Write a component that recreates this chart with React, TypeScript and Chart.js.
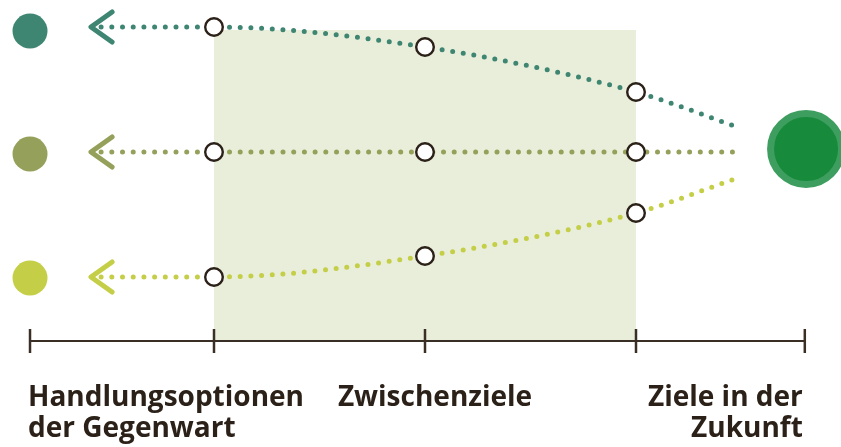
import React, { useEffect, useRef } from "react";
import { Chart, registerables } from "chart.js";

Chart.register(...registerables);

// Stages on the time axis (0 = present, 1 = intermediate goals, 2 = future goals)
const stageLabels: string[][] = [
  ["Handlungsoptionen", "der Gegenwart"],
  ["Zwischenziele"],
  ["Ziele in der", "Zukunft"],
];
const stageX = [0, 1, 2];
const axisStart = -0.872;
const axisEnd = 2.8;
const axisTicks = [axisStart, 0, 1, 2, axisEnd];
const axisLevel = -189;
const shadeTop = 122;

// Path values (deviation from the central path)
const tealValues = [125, 105, 60];
const oliveValues = [0, 0, 0];
const limeValues = [-125, -104, -61];
const endX = 2.48;
const tealEnd = 25;
const oliveEnd = 0;
const limeEnd = -26;
const arrowStartX = -0.535;
const arrowTipX = -0.583;
const arrowArmX = -0.483;
const arrowArm = 15;

// Option markers on the left and the goal on the right
const optionValues = [121, -2, -126];
const goalX = 2.806;
const goalValue = 3;

const XMIN = -214 / 211;
const XMAX = 627 / 211;
const YMIN = -295;
const YMAX = 152;

const TEAL = "#3f8672";
const OLIVE = "#95a15a";
const LIME = "#c4cf47";
const DARK = "#2b2118";
const SHADE = "#e8eed9";

function pathData(values: number[], end: number) {
  return [
    { x: arrowStartX, y: values[0] },
    ...stageX.map((x, i) => ({ x, y: values[i] })),
    { x: endX, y: end },
  ];
}

function arrowData(v: number) {
  return [
    { x: arrowArmX, y: v + arrowArm },
    { x: arrowTipX, y: v },
    { x: arrowArmX, y: v - arrowArm },
  ];
}

function pathDataset(values: number[], end: number, color: string) {
  return {
    data: pathData(values, end),
    showLine: true,
    borderColor: color,
    borderWidth: 5,
    borderDash: [0, 10.7],
    borderCapStyle: "round" as const,
    cubicInterpolationMode: "monotone" as const,
    pointRadius: [0, 8.8, 8.8, 8.8, 0],
    pointBackgroundColor: "#ffffff",
    pointBorderColor: DARK,
    pointBorderWidth: 2.4,
    order: 1,
  };
}

function arrowDataset(v: number, color: string) {
  return {
    data: arrowData(v),
    showLine: true,
    borderColor: color,
    borderWidth: 5,
    borderCapStyle: "round" as const,
    borderJoinStyle: "round" as const,
    pointRadius: 0,
    tension: 0,
    order: 2,
  };
}

const labelPlugin = {
  id: "stageLabels",
  afterDraw(chart: any) {
    const ctx = chart.ctx;
    const xs = chart.scales.x;
    const ys = chart.scales.y;
    const base = ys.getPixelForValue(axisLevel);
    ctx.save();
    ctx.fillStyle = DARK;
    ctx.font = '700 28px "Open Sans"';
    ctx.textBaseline = "alphabetic";
    const positions = [
      { x: xs.getPixelForValue(axisStart) - 2, align: "left" },
      { x: xs.getPixelForValue(1) + 10, align: "center" },
      { x: xs.getPixelForValue(axisEnd) - 2, align: "right" },
    ];
    stageLabels.forEach((lines, i) => {
      ctx.textAlign = positions[i].align;
      lines.forEach((line, j) => {
        ctx.fillText(line, positions[i].x, base + 65 + j * 31);
      });
    });
    ctx.restore();
  },
};

export default function App() {
  const ref = useRef<HTMLCanvasElement | null>(null);
  useEffect(() => {
    if (!ref.current) return;
    const chart = new Chart(ref.current, {
      type: "scatter",
      data: {
        datasets: [
          pathDataset(tealValues, tealEnd, TEAL),
          pathDataset(oliveValues, oliveEnd, OLIVE),
          pathDataset(limeValues, limeEnd, LIME),
          arrowDataset(tealValues[0], TEAL),
          arrowDataset(oliveValues[0], OLIVE),
          arrowDataset(limeValues[0], LIME),
          {
            data: optionValues.map((y) => ({ x: axisStart, y })),
            pointRadius: 17.5,
            pointBorderWidth: 0,
            pointBackgroundColor: [TEAL, OLIVE, LIME],
            order: 3,
          },
          {
            data: [{ x: goalX, y: goalValue }],
            pointRadius: 35.5,
            pointBorderWidth: 7,
            pointBackgroundColor: "#178b3b",
            pointBorderColor: "#3e9e5f",
            order: 3,
          },
          {
            data: axisTicks.map((x) => ({ x, y: axisLevel })),
            pointStyle: "line",
            rotation: 90,
            pointRadius: 12,
            pointBorderWidth: 2.5,
            pointBorderColor: "#3a2f25",
            order: 14,
          },
          {
            data: [
              { x: axisStart, y: axisLevel },
              { x: axisEnd, y: axisLevel },
            ],
            showLine: true,
            borderColor: "#3a2f25",
            borderWidth: 2,
            pointRadius: 0,
            order: 15,
          },
          {
            data: [
              { x: stageX[0], y: shadeTop },
              { x: stageX[2], y: shadeTop },
            ],
            showLine: true,
            borderWidth: 0,
            borderColor: SHADE,
            backgroundColor: SHADE,
            fill: { value: axisLevel },
            pointRadius: 0,
            order: 20,
          },
        ] as any,
      },
      options: {
        animation: false,
        responsive: false,
        events: [],
        layout: { padding: 0, autoPadding: false },
        plugins: {
          legend: { display: false },
          tooltip: { enabled: false },
        },
        scales: {
          x: { type: "linear", min: XMIN, max: XMAX, display: false },
          y: { type: "linear", min: YMIN, max: YMAX, display: false },
        },
      } as any,
      plugins: [labelPlugin],
    });
    return () => chart.destroy();
  }, []);
  return (
    <div style={{ position: "absolute", left: 0, top: 0, width: 841, height: 447, background: "#ffffff" }}>
      <canvas ref={ref} width={841} height={447} />
    </div>
  );
}
